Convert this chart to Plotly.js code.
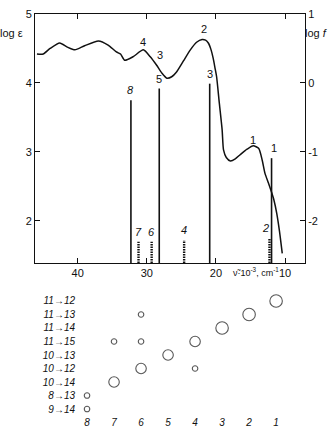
<!DOCTYPE html>
<html>
<head>
<meta charset="utf-8">
<script src="https://cdn.plot.ly/plotly-3.0.1.min.js"></script>
<style>html,body{margin:0;padding:0;background:#fff;}#chart{width:330px;height:427px;}</style>
</head>
<body>
<div id="chart"></div>
<script>
// ---- absorption curve: wavenumber (10^3 cm^-1) vs log epsilon ----
var curveWn = [45.9,45.0,44.0,42.6,41.5,40.4,39.0,37.0,35.6,34.4,33.8,33.2,32.0,30.5,29.5,28.6,27.8,27.1,26.4,25.7,24.7,23.7,22.8,22.0,21.5,21.1,20.7,20.4,20.1,19.9,19.5,19.1,18.9,18.5,17.9,17.2,16.5,15.5,14.6,13.8,13.3,12.9,12.4,11.9,11.6,11.2,10.8,10.4];
var curveLogEps = [4.42,4.42,4.50,4.58,4.52,4.48,4.54,4.61,4.55,4.45,4.42,4.33,4.38,4.48,4.38,4.26,4.14,4.07,4.09,4.16,4.32,4.48,4.59,4.63,4.62,4.58,4.48,4.36,4.20,4.09,3.70,3.32,3.03,2.92,2.87,2.90,2.96,3.04,3.09,3.05,2.88,2.69,2.55,2.40,2.30,2.11,1.85,1.53];
var curveBandLabels = ['4','3','2','1'];
var curveBandWn = [30.5,28.1,21.7,14.6];
var curveBandLogEps = [4.59,4.41,4.78,3.17];

// ---- calculated transitions: wavenumber vs log f ----
var stickLabels = ['8','5','3','1','7','6','4','2'];
var stickWn = [32.3,28.2,20.9,11.95,31.2,29.3,24.6,12.25];
var stickLogF = [-0.25,-0.08,-0.01,-1.09,-2.30,-2.30,-2.28,-2.25];
var stickWeak = [false,false,false,false,true,true,true,true];

// ---- configuration-interaction composition ----
var stateLabels = ['8','7','6','5','4','3','2','1'];
var configLabels = ['11\u219212','11\u219213','11\u219214','11\u219215','10\u219213','10\u219212','10\u219214','8\u219213','9\u219214'];
var bubbleState = ['1','2','3','4','4','5','6','6','6','7','7','8','8'];
var bubbleConfig = ['11\u219212','11\u219213','11\u219214','11\u219215','10\u219212','10\u219213','11\u219213','11\u219215','10\u219212','11\u219215','10\u219214','8\u219213','9\u219214'];
var bubbleWeight = [3,3,3,2,1,2,1,1,2,1,2,1,1];
var scaleWeight = [3];

// ---- axis ranges / ticks ----
var xRange = [46.18, 7.11];
var epsRange = [1.39, 5];
var fRange = [epsRange[0]-4, epsRange[1]-4];
var xTicks = [40,30,20,10];
var epsTicks = [2,3,4,5];
var fTicks = [-2,-1,0,1];
var fTickText = ['-2','-1','0','1'];

var FONT = 'Liberation Sans, Arial, sans-serif';
var sizeOf = function(w){ return [0,5.5,10.5,12.5][w]; };

var traces = [];
traces.push({x: curveWn, y: curveLogEps, xaxis:'x', yaxis:'y', mode:'lines',
  line:{color:'#111', width:1.5, shape:'spline', smoothing:0.6}, hoverinfo:'skip'});

function stickTrace(weak){
  var xs=[], ys=[];
  for (var i=0;i<stickWn.length;i++){
    if (stickWeak[i]!==weak) continue;
    xs.push(stickWn[i], stickWn[i], null);
    ys.push(fRange[0], stickLogF[i], null);
  }
  return {x:xs, y:ys, xaxis:'x', yaxis:'y3', mode:'lines', hoverinfo:'skip',
    line: weak ? {color:'#111', width:2.4, dash:'1.5px,1px'} : {color:'#111', width:1.6}};
}
traces.push(stickTrace(false));
traces.push(stickTrace(true));

var stateIndex = function(s){ return stateLabels.indexOf(s); };
var configIndex = function(c){ return configLabels.indexOf(c); };
traces.push({x: bubbleState.map(stateIndex), y: bubbleConfig.map(configIndex),
  xaxis:'x2', yaxis:'y2', mode:'markers', hoverinfo:'skip', cliponaxis:false,
  marker:{symbol:'circle', color:'rgba(255,255,255,0)', size: bubbleWeight.map(sizeOf), line:{color:'#111', width:1.1}}});
// size reference circle above the configuration labels
traces.push({x:[-1.15], y:[-1], xaxis:'x2', yaxis:'y2', mode:'markers', hoverinfo:'skip', cliponaxis:false,
  marker:{symbol:'circle', color:'rgba(255,255,255,0)', size: scaleWeight.map(sizeOf), line:{color:'#111', width:1.1}}});

var annotations = [];
for (var i=0;i<curveBandLabels.length;i++){
  annotations.push({x:curveBandWn[i], y:curveBandLogEps[i], xref:'x', yref:'y', text:curveBandLabels[i],
    showarrow:false, xanchor:'center', yanchor:'middle', font:{family:FONT, size:11, color:'#111'}});
}
for (var j=0;j<stickLabels.length;j++){
  annotations.push({x:stickWn[j], y:stickLogF[j], xref:'x', yref:'y3', text:stickLabels[j],
    showarrow:false, xanchor:'center', yanchor:'bottom', yshift:2, xshift:(stickLabels[j]==='1'?2:(stickLabels[j]==='2'?-4:0)),
    font:{family:FONT, size:11, color:'#111', style:(stickWeak[j]||stickLabels[j]==='8')?'italic':'normal'}});
}
annotations.push({xref:'paper', yref:'paper', x:-0.087, y:0.953, xanchor:'center', yanchor:'middle', text:'log \u03b5', showarrow:false,
  font:{family:FONT, size:11, color:'#111'}});
annotations.push({xref:'paper', yref:'paper', x:1.04, y:0.953, xanchor:'center', yanchor:'middle', text:'log <i>f</i>', showarrow:false,
  font:{family:FONT, size:11, color:'#111'}});
annotations.push({xref:'paper', yref:'paper', x:0.725, y:0.357, xanchor:'left', yanchor:'middle', text:'\u03bd\u0303\u00b710<sup>-3</sup>, cm<sup>-1</sup>', showarrow:false,
  font:{family:FONT, size:9, color:'#111'}});

var axBase = {showgrid:false, zeroline:false, linecolor:'#111', linewidth:1, tickcolor:'#111',
  tickfont:{family:FONT, size:11, color:'#111'}};

var layout = {
  width:330, height:427, showlegend:false,
  paper_bgcolor:'#fff', plot_bgcolor:'rgba(0,0,0,0)',
  margin:{l:35, r:25, t:14, b:12},
  xaxis: Object.assign({}, axBase, {domain:[0,1], anchor:'y', range:xRange, tickvals:xTicks, ticks:'inside', ticklen:5,
    showline:true, mirror:'ticks'}),
  yaxis: Object.assign({}, axBase, {domain:[0.379,1], anchor:'x', range:epsRange, tickvals:epsTicks, ticks:'inside', ticklen:5,
    showline:true}),
  yaxis3: Object.assign({}, axBase, {overlaying:'y', side:'right', anchor:'x', range:fRange, tickvals:fTicks, ticktext:fTickText, ticks:'inside', ticklen:5,
    showline:true}),
  xaxis2: Object.assign({}, axBase, {domain:[0.152,1], anchor:'y2', range:[-0.407,8.07], tickvals:[0,1,2,3,4,5,6,7], ticktext:stateLabels,
    showline:false, ticks:'', tickfont:{family:FONT, size:10, color:'#111', style:'italic'}}),
  yaxis2: Object.assign({}, axBase, {domain:[0,0.337], anchor:'x2', range:[8.44,-1.56], tickvals:[0,1,2,3,4,5,6,7,8], ticktext:configLabels,
    showline:false, ticks:'', tickfont:{family:FONT, size:10, color:'#111', style:'italic'}}),
  annotations: annotations
};

Plotly.newPlot('chart', traces, layout, {staticPlot:true, displayModeBar:false});
</script>
</body>
</html>
